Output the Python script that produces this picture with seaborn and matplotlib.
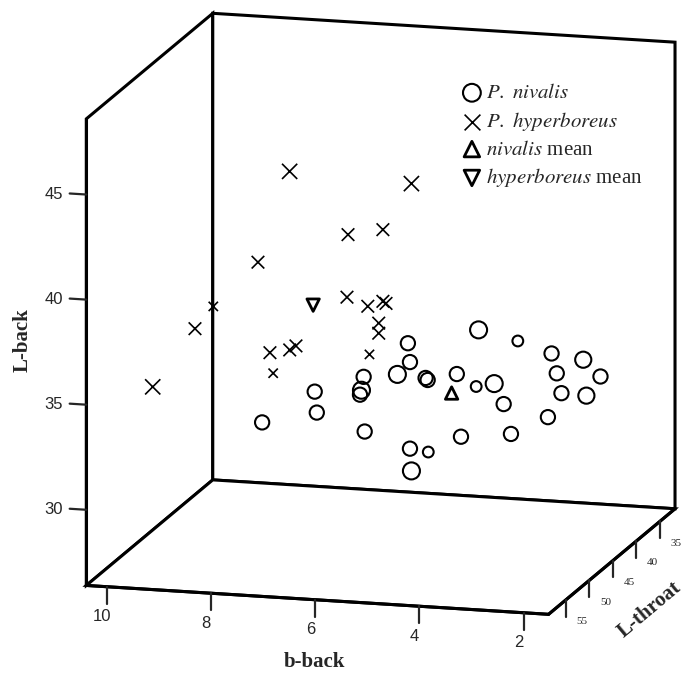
import numpy as np
import pandas as pd
import seaborn as sns
import matplotlib
matplotlib.use('Agg')
import matplotlib.pyplot as plt

sns.set_theme(context='paper', style='white')
plt.rcParams['font.family'] = ['Liberation Serif', 'DejaVu Serif']
plt.rcParams['mathtext.fontset'] = 'stix'

# P. nivalis: b-back, L-throat, L-back
niv_bback = [3.65, 3.98, 5.55, 5.51, 5.21, 5.17, 5.21, 4.61, 4.78, 3.35,
             3.71, 2.79, 1.82, 2.69, 1.85, 2.60, 1.76, 2.86, 3.57, 4.53,
             5.51, 5.70, 4.94, 5.90, 6.47, 6.40, 7.34, 7.30, 8.35, 6.38]
niv_lthroat = [50, 38, 44, 44, 50, 44, 44, 44, 38, 50,
               44, 44, 48, 44, 44, 44, 48, 44, 44, 44,
               44, 38, 50, 50, 44, 44, 44, 44, 44, 44]
niv_lback = [37.98, 35.16, 35.93, 35.04, 35.62, 34.24, 34.33, 34.61, 32.87, 35.47,
             33.32, 35.87, 36.47, 34.94, 34.92, 34.01, 34.77, 32.83, 31.92, 31.64,
             30.92, 29.61, 31.07, 34.76, 33.34, 34.20, 33.35, 32.36, 31.73, 31.60]

# P. hyperboreus
hyp_bback = [7.28, 4.94, 9.91, 6.70, 6.03, 8.43, 9.83, 9.64, 6.72, 6.32,
             6.03, 5.97, 6.11, 6.11, 6.83, 8.20, 7.82, 7.70, 8.68]
hyp_lthroat = [50, 50, 50, 44, 44, 44, 38, 44, 44, 44,
               44, 44, 44, 44, 38, 44, 44, 44, 38]
hyp_lback = [44.96, 44.74, 34.30, 40.92, 41.26, 39.34, 35.90, 35.99, 37.94, 37.57,
             37.85, 37.76, 36.80, 36.32, 34.08, 35.07, 35.26, 35.47, 32.90]

# group means (b-back, L-throat, L-back)
niv_mean = [4.71, 44, 33.69]
hyp_mean = [7.37, 44, 37.46]

bback_ticks = [10, 8, 6, 4, 2]
lthroat_ticks = [35, 40, 45, 50, 55]
lback_ticks = [30, 35, 40, 45]

niv = pd.DataFrame({'b': niv_bback, 't': niv_lthroat, 'l': niv_lback})
hyp = pd.DataFrame({'b': hyp_bback, 't': hyp_lthroat, 'l': hyp_lback})


def depth_size(t, small, big):
    # nearer points (bigger L-throat) are drawn larger
    return np.interp(t, [38, 50], [small, big])


fig = plt.figure(figsize=(6.95, 6.8), dpi=100)
ax = fig.add_axes([0.0345, 0.025, 1.0, 1.0], projection='3d')
ax.set_proj_type('ortho')
ax.view_init(elev=13.2, azim=105.3)
ax.set_box_aspect((1, 1, 1), zoom=1.185)

ax.scatter(niv['b'], niv['t'], niv['l'], s=depth_size(niv['t'], 60, 150),
           marker='o', facecolors='none', edgecolors='black', linewidths=1.5,
           depthshade=False, label=r'$\it{P.\ nivalis}$')
ax.scatter(hyp['b'], hyp['t'], hyp['l'], s=depth_size(hyp['t'], 45, 120),
           marker='x', color='black', linewidths=1.2,
           depthshade=False, label=r'$\it{P.\ hyperboreus}$')
ax.scatter([niv_mean[0]], [niv_mean[1]], [niv_mean[2]], s=80, marker='^',
           facecolors='none', edgecolors='black', linewidths=2,
           depthshade=False, label=r'$\it{nivalis}$ mean')
ax.scatter([hyp_mean[0]], [hyp_mean[1]], [hyp_mean[2]], s=80, marker='v',
           facecolors='none', edgecolors='black', linewidths=2,
           depthshade=False, label=r'$\it{hyperboreus}$ mean')

ax.set_xlim(1.52, 10.4)
ax.set_ylim(31.8, 58.7)
ax.set_zlim(26.4, 48.6)
ax.set_xticks(bback_ticks)
ax.set_yticks(lthroat_ticks)
ax.set_zticks(lback_ticks)
ax.grid(False)

for axis in (ax.xaxis, ax.yaxis, ax.zaxis):
    axis.set_pane_color((1, 1, 1, 1))
    axis.pane.set_edgecolor('black')
    axis.pane.set_linewidth(2.2)
    axis.pane.set_closed(True)
    axis.line.set_color('black')
    axis.line.set_linewidth(2.2)
    axis._axinfo['tick']['inward_factor'] = 0.0
    axis._axinfo['tick']['outward_factor'] = 0.45
    axis._axinfo['tick']['color'] = 'black'
    axis._axinfo['tick']['linewidth'] = {True: 1.6, False: 1.0}

# L-back ticks on the front-left edge; tick marks pointing left / down
ax.zaxis.set_ticks_position('upper')
ax.xaxis._get_tickdir = lambda *a, **k: 2
ax.yaxis._get_tickdir = lambda *a, **k: 2
ax.zaxis._get_tickdir = lambda *a, **k: 0

ax.tick_params(axis='x', labelsize=12, pad=2)
ax.tick_params(axis='z', labelsize=12, pad=6)
ax.tick_params(axis='y', labelsize=8, pad=1)
for lab in ax.get_xticklabels() + ax.get_zticklabels():
    lab.set_fontfamily('Liberation Sans')
for lab in ax.get_zticklabels():
    lab.set_verticalalignment('baseline')

fig.text(0.032, 0.50, 'L-back', rotation=90, fontsize=15, fontweight='bold',
         ha='center', va='center')
fig.text(0.453, 0.027, 'b-back', fontsize=15, fontweight='bold',
         ha='center', va='center')
fig.text(0.935, 0.103, 'L-throat', rotation=40, fontsize=15, fontweight='bold',
         ha='center', va='center')

fig.legend(loc='upper left', bbox_to_anchor=(0.661, 0.877), frameon=False,
           fontsize=15, handlelength=1.2, handletextpad=0.1, labelspacing=0.33,
           markerscale=1.25, borderaxespad=0, borderpad=0)

fig.savefig('out.png', dpi=100)
